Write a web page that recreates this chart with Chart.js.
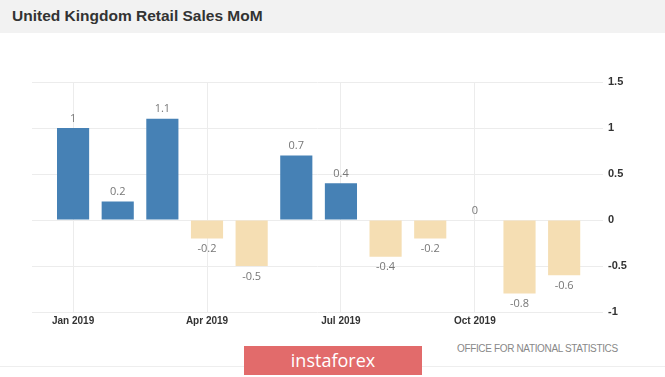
<!DOCTYPE html>
<html>
<head>
<meta charset="utf-8">
<script src="https://cdn.jsdelivr.net/npm/chart.js@4/dist/chart.umd.min.js"></script>
<style>
    html, body { margin: 0; padding: 0; background: #fff; }
    body { width: 665px; height: 377px; position: relative; overflow: hidden; font-family: 'Liberation Sans', Arial, sans-serif; }
    .header { position: absolute; left: 0; top: 0; width: 665px; height: 33px; background: #f2f2f2; }
    .header h1 { margin: 0; position: absolute; left: 12px; top: 7px; font-size: 15.5px; font-weight: bold; color: #333; }
    .chart-wrap { position: absolute; left: 0; top: 33px; width: 665px; height: 300px; }
    .source { position: absolute; left: 457px; top: 343px; font-size: 10px; color: #888; letter-spacing: -0.35px; }
    .rule { position: absolute; left: 0; top: 366px; width: 665px; height: 1px; background: #eee; }
    .logo { position: absolute; left: 244px; top: 346px; width: 178px; height: 29px; background: #e26b6b; color: #fff;
        font-family: 'Open Sans', sans-serif; font-size: 18px; line-height: 29px; text-align: center; }
</style>
</head>
<body>
<div class="header"><h1>United Kingdom Retail Sales MoM</h1></div>
<div class="chart-wrap"><canvas id="retail01"></canvas></div>
<div class="source">OFFICE FOR NATIONAL STATISTICS</div>
<div class="rule"></div>
<div class="logo">instaforex</div>
<script>
// data
const months = ['Jan 2019', 'Feb 2019', 'Mar 2019', 'Apr 2019', 'May 2019', 'Jun 2019',
    'Jul 2019', 'Aug 2019', 'Sep 2019', 'Oct 2019', 'Nov 2019', 'Dec 2019'];
const salesMoM = [1, 0.2, 1.1, -0.2, -0.5, 0.7, 0.4, -0.4, -0.2, 0, -0.8, -0.6];
const xTickIndexes = [0, 3, 6, 9];
const yTicks = [-1, -0.5, 0, 0.5, 1, 1.5];

const COLOR_UP = '#4681b5';
const COLOR_DOWN = '#f5deb3';
const GRID = '#ececec';

// value labels above / below each bar
const barValueLabels = {
    id: 'barValueLabels',
    afterDatasetsDraw(chart) {
        const { ctx } = chart;
        const meta = chart.getDatasetMeta(0);
        ctx.save();
        ctx.font = "11px 'Open Sans'";
        ctx.fillStyle = '#777';
        ctx.textAlign = 'center';
        meta.data.forEach((bar, i) => {
            const v = salesMoM[i];
            if (v >= 0) {
                ctx.textBaseline = 'bottom';
                ctx.fillText(String(v), bar.x, bar.y - 4);
            } else {
                ctx.textBaseline = 'top';
                ctx.fillText(String(v), bar.x, bar.y + 5);
            }
        });
        ctx.restore();
    },
};

const ctx = document.getElementById('retail01').getContext('2d');
const chart = new Chart(ctx, {
    type: 'bar',
    data: {
        datasets: [{
            label: 'Retail Sales MoM',
            data: salesMoM.map((v, i) => ({ x: i, y: v })),
            backgroundColor: salesMoM.map(v => (v >= 0 ? COLOR_UP : COLOR_DOWN)),
            borderWidth: 0,
            barPercentage: 0.72,
            categoryPercentage: 1,
        }],
    },
    options: {
        responsive: true,
        maintainAspectRatio: false,
        animation: false,
        layout: {
            padding: { top: 49, left: 32, right: 0, bottom: 0 },
        },
        plugins: {
            legend: { display: false },
            title: { display: false },
            tooltip: { enabled: false },
        },
        scales: {
            x: {
                type: 'linear',
                offset: false,
                min: -0.92,
                max: 11.87,
                afterBuildTicks(axis) {
                    axis.ticks = xTickIndexes.map(value => ({ value }));
                },
                afterFit(scaleInstance) {
                    scaleInstance.height = 21;
                },
                ticks: {
                    padding: 3,
                    maxRotation: 0,
                    minRotation: 0,
                    color: '#333',
                    font: { family: 'Liberation Sans', size: 10, weight: 'bold' },
                    callback(value) {
                        return months[value];
                    },
                },
                grid: {
                    offset: false,
                    color: GRID,
                    drawTicks: false,
                },
                border: { display: false },
            },
            y: {
                position: 'right',
                min: -1,
                max: 1.5,
                afterBuildTicks(axis) {
                    axis.ticks = yTicks.map(value => ({ value }));
                },
                afterFit(scaleInstance) {
                    scaleInstance.width = 62;
                },
                ticks: {
                    padding: 5,
                    color: '#333',
                    font: { family: 'Liberation Sans', size: 11, weight: 'bold' },
                    callback(value) {
                        return String(value);
                    },
                },
                grid: {
                    color: GRID,
                    drawTicks: false,
                },
                border: { display: false },
            },
        },
    },
    plugins: [barValueLabels],
});
</script>
</body>
</html>
